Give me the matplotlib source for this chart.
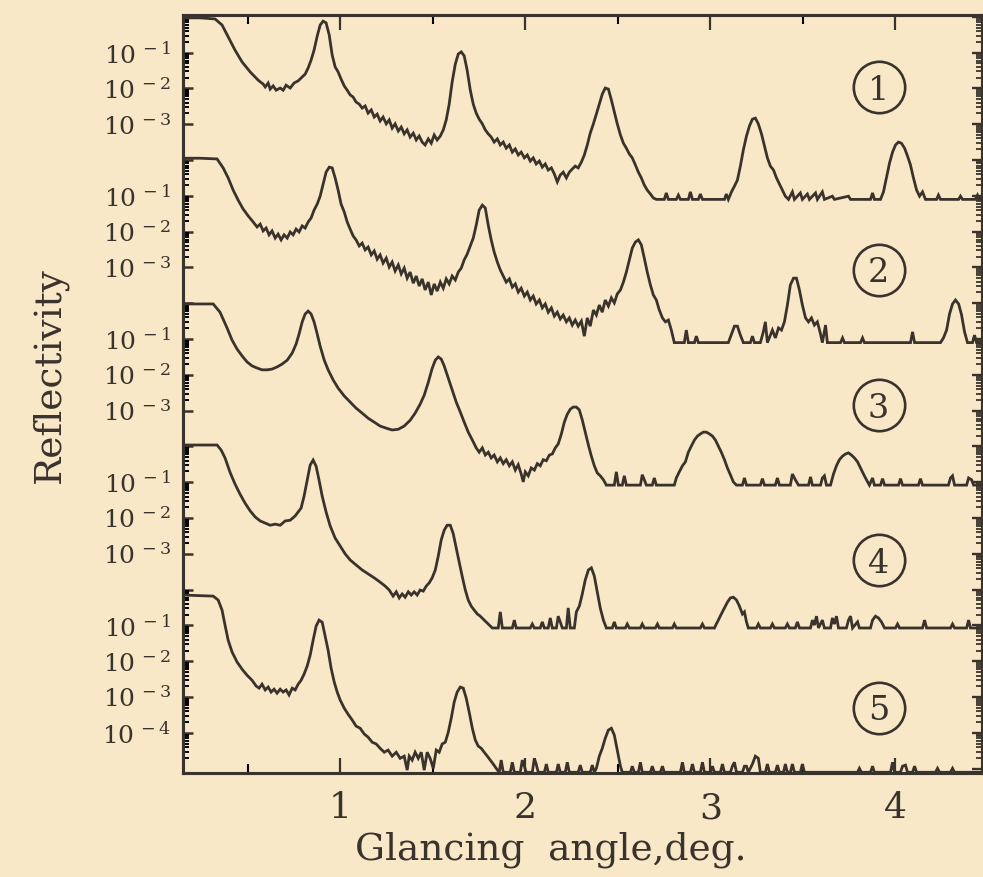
import numpy as np
import matplotlib
matplotlib.use("Agg")
import matplotlib.pyplot as plt
from matplotlib.ticker import NullFormatter

plt.rcParams['font.family'] = ['DejaVu Serif', 'DejaVu Sans']
plt.rcParams['mathtext.fontset'] = 'dejavuserif'

PAPER = '#f8e8c8'
INK = '#3a322c'

# (glancing angle in deg, log10 reflectivity)
curve1 = [
    (0.151, -0.03), (0.243, -0.03), (0.324, -0.06), (0.362, -0.23), (0.395, -0.56),
    (0.432, -0.93), (0.470, -1.26), (0.514, -1.54), (0.557, -1.77), (0.584, -1.88),
    (0.595, -1.96), (0.611, -1.85), (0.622, -2.02), (0.638, -1.93), (0.654, -2.05),
    (0.676, -1.99), (0.692, -2.05), (0.708, -1.91), (0.730, -1.99), (0.751, -1.85),
    (0.773, -1.79), (0.795, -1.68), (0.811, -1.60), (0.827, -1.43), (0.843, -1.21),
    (0.859, -0.93), (0.876, -0.54), (0.892, -0.23), (0.908, -0.12), (0.924, -0.17),
    (0.941, -0.51), (0.957, -1.07), (0.973, -1.40), (0.989, -1.54), (1.005, -1.74),
    (1.022, -1.93), (1.038, -2.05), (1.054, -2.18), (1.070, -2.24), (1.086, -2.38),
    (1.103, -2.44), (1.119, -2.55), (1.135, -2.49), (1.151, -2.69), (1.168, -2.60),
    (1.184, -2.80), (1.200, -2.72), (1.216, -2.91), (1.232, -2.80), (1.249, -2.99),
    (1.265, -2.88), (1.281, -3.11), (1.297, -2.99), (1.314, -3.19), (1.330, -3.08),
    (1.346, -3.27), (1.362, -3.16), (1.378, -3.36), (1.395, -3.25), (1.411, -3.44),
    (1.427, -3.33), (1.443, -3.50), (1.459, -3.58), (1.476, -3.41), (1.492, -3.53),
    (1.508, -3.30), (1.524, -3.44), (1.541, -3.33), (1.557, -3.16), (1.573, -2.88),
    (1.589, -2.44), (1.605, -1.82), (1.622, -1.32), (1.638, -1.04), (1.654, -0.98),
    (1.670, -1.09), (1.686, -1.49), (1.703, -2.05), (1.719, -2.44), (1.735, -2.69),
    (1.751, -2.86), (1.768, -2.99), (1.784, -3.16), (1.800, -3.27), (1.816, -3.36),
    (1.832, -3.50), (1.849, -3.41), (1.865, -3.58), (1.881, -3.50), (1.897, -3.67),
    (1.914, -3.58), (1.930, -3.78), (1.946, -3.69), (1.962, -3.86), (1.978, -3.78),
    (1.995, -3.94), (2.011, -3.86), (2.027, -4.03), (2.043, -3.94), (2.059, -4.11),
    (2.076, -4.03), (2.092, -4.20), (2.108, -4.11), (2.124, -4.28), (2.141, -4.22),
    (2.157, -4.39), (2.173, -4.61), (2.189, -4.42), (2.205, -4.34), (2.222, -4.50),
    (2.238, -4.34), (2.254, -4.25), (2.270, -4.17), (2.286, -4.22), (2.303, -4.06),
    (2.319, -3.86), (2.335, -3.58), (2.351, -3.25), (2.368, -2.99), (2.384, -2.72),
    (2.400, -2.44), (2.416, -2.16), (2.432, -1.99), (2.449, -2.02), (2.465, -2.32),
    (2.481, -2.66), (2.497, -2.99), (2.514, -3.30), (2.530, -3.53), (2.546, -3.67),
    (2.562, -3.83), (2.578, -3.94), (2.595, -4.14), (2.611, -4.34), (2.627, -4.50),
    (2.643, -4.70), (2.659, -4.84), (2.676, -4.95), (2.692, -5.06), (2.708, -5.10),
    (2.751, -5.10), (2.762, -4.92), (2.773, -5.10), (2.816, -5.10), (2.827, -4.98),
    (2.838, -5.10), (2.881, -5.10), (2.892, -4.89), (2.903, -5.10), (2.935, -5.10),
    (2.946, -4.95), (2.957, -5.10), (3.076, -5.10), (3.086, -4.95), (3.097, -5.10),
    (3.114, -4.89), (3.130, -4.73), (3.146, -4.56), (3.162, -4.17), (3.178, -3.72),
    (3.195, -3.33), (3.211, -3.05), (3.227, -2.86), (3.243, -2.83), (3.259, -2.99),
    (3.276, -3.27), (3.292, -3.61), (3.308, -3.94), (3.324, -4.17), (3.341, -4.28),
    (3.357, -4.50), (3.373, -4.67), (3.389, -4.84), (3.405, -5.01), (3.422, -5.10),
    (3.443, -4.89), (3.454, -5.10), (3.486, -4.92), (3.497, -5.10), (3.524, -4.95),
    (3.535, -5.10), (3.568, -4.92), (3.578, -5.10), (3.605, -4.89), (3.616, -5.10),
    (3.659, -5.01), (3.670, -5.10), (3.746, -5.01), (3.757, -5.10), (3.865, -5.10),
    (3.876, -4.92), (3.886, -5.10), (3.919, -5.10), (3.935, -4.89), (3.951, -4.50),
    (3.968, -4.08), (3.984, -3.78), (4.000, -3.58), (4.016, -3.50), (4.032, -3.53),
    (4.049, -3.67), (4.065, -3.89), (4.081, -4.14), (4.097, -4.50), (4.114, -4.84),
    (4.130, -5.01), (4.146, -4.89), (4.162, -5.10), (4.222, -5.10), (4.232, -4.98),
    (4.243, -5.10), (4.341, -5.10), (4.351, -5.01), (4.362, -5.10), (4.432, -5.10),
    (4.443, -4.98), (4.454, -5.10), (4.481, -5.10),
]

curve2 = [
    (0.151, 0.05), (0.243, 0.05), (0.335, 0.03), (0.368, -0.22), (0.395, -0.50),
    (0.422, -0.84), (0.449, -1.12), (0.476, -1.37), (0.503, -1.56), (0.530, -1.73),
    (0.551, -1.87), (0.568, -1.79), (0.584, -1.98), (0.600, -1.90), (0.616, -2.09),
    (0.632, -1.98), (0.649, -2.18), (0.665, -2.07), (0.681, -2.23), (0.697, -2.09),
    (0.714, -2.18), (0.730, -2.01), (0.746, -2.09), (0.762, -1.93), (0.778, -2.01),
    (0.795, -1.84), (0.811, -1.90), (0.827, -1.73), (0.843, -1.62), (0.859, -1.40),
    (0.876, -1.23), (0.892, -1.01), (0.908, -0.67), (0.924, -0.34), (0.941, -0.20),
    (0.957, -0.22), (0.973, -0.50), (0.989, -0.84), (1.005, -1.23), (1.022, -1.45),
    (1.038, -1.73), (1.054, -1.93), (1.070, -2.12), (1.086, -2.23), (1.103, -2.40),
    (1.119, -2.32), (1.135, -2.51), (1.151, -2.43), (1.168, -2.65), (1.184, -2.54),
    (1.200, -2.77), (1.216, -2.65), (1.232, -2.88), (1.249, -2.74), (1.265, -2.99),
    (1.281, -2.85), (1.297, -3.10), (1.314, -2.93), (1.330, -3.18), (1.346, -3.02),
    (1.362, -3.30), (1.378, -3.13), (1.395, -3.44), (1.411, -3.24), (1.427, -3.52),
    (1.443, -3.32), (1.459, -3.63), (1.476, -3.41), (1.492, -3.77), (1.508, -3.46),
    (1.524, -3.66), (1.541, -3.41), (1.557, -3.58), (1.573, -3.32), (1.589, -3.46),
    (1.605, -3.24), (1.622, -3.35), (1.638, -3.13), (1.654, -3.02), (1.670, -2.79),
    (1.686, -2.63), (1.703, -2.40), (1.719, -2.18), (1.735, -1.82), (1.751, -1.40),
    (1.768, -1.26), (1.784, -1.34), (1.800, -1.82), (1.816, -2.23), (1.832, -2.57),
    (1.849, -2.85), (1.865, -3.07), (1.881, -3.24), (1.897, -3.41), (1.914, -3.32),
    (1.930, -3.55), (1.946, -3.46), (1.962, -3.69), (1.978, -3.58), (1.995, -3.80),
    (2.011, -3.69), (2.027, -3.91), (2.043, -3.80), (2.059, -4.02), (2.076, -3.91),
    (2.092, -4.13), (2.108, -4.02), (2.124, -4.25), (2.141, -4.13), (2.157, -4.36),
    (2.173, -4.25), (2.189, -4.44), (2.205, -4.33), (2.222, -4.52), (2.238, -4.41),
    (2.254, -4.61), (2.270, -4.47), (2.286, -4.64), (2.303, -4.50), (2.319, -4.92),
    (2.335, -4.41), (2.351, -4.64), (2.368, -4.19), (2.384, -4.33), (2.400, -4.05),
    (2.416, -4.25), (2.432, -3.91), (2.449, -4.08), (2.465, -3.85), (2.481, -3.99),
    (2.497, -3.74), (2.514, -3.63), (2.530, -3.41), (2.546, -3.13), (2.562, -2.79),
    (2.578, -2.46), (2.595, -2.29), (2.611, -2.23), (2.627, -2.37), (2.643, -2.74),
    (2.659, -3.13), (2.676, -3.49), (2.692, -3.77), (2.708, -3.91), (2.724, -4.19),
    (2.741, -4.41), (2.757, -4.52), (2.773, -4.47), (2.789, -4.75), (2.805, -5.10),
    (2.859, -5.10), (2.870, -4.75), (2.881, -5.10), (2.914, -5.10), (2.924, -4.92),
    (2.935, -5.10), (3.097, -5.10), (3.114, -4.86), (3.130, -4.64), (3.146, -4.64),
    (3.162, -4.89), (3.178, -5.10), (3.216, -5.10), (3.227, -4.92), (3.238, -5.10),
    (3.270, -5.10), (3.286, -4.80), (3.297, -4.52), (3.308, -5.10), (3.335, -4.75),
    (3.351, -4.97), (3.368, -4.69), (3.384, -4.75), (3.400, -4.52), (3.416, -4.05),
    (3.432, -3.49), (3.449, -3.30), (3.465, -3.30), (3.481, -3.63), (3.497, -4.05),
    (3.514, -4.41), (3.530, -4.52), (3.546, -4.41), (3.562, -4.61), (3.578, -4.52),
    (3.595, -4.86), (3.605, -5.10), (3.622, -4.61), (3.632, -5.10), (3.703, -5.10),
    (3.714, -4.97), (3.724, -5.10), (3.811, -5.10), (3.822, -4.97), (3.832, -5.10),
    (4.081, -5.10), (4.092, -4.80), (4.103, -5.10), (4.243, -5.10), (4.259, -4.97),
    (4.276, -4.75), (4.292, -4.30), (4.308, -4.02), (4.324, -3.91), (4.341, -4.02),
    (4.357, -4.33), (4.373, -4.80), (4.389, -5.10), (4.416, -5.10), (4.427, -4.89),
    (4.438, -5.10), (4.481, -5.10),
]

curve3 = [
    (0.151, -0.02), (0.314, -0.02), (0.351, -0.25), (0.389, -0.69), (0.416, -1.03),
    (0.443, -1.28), (0.470, -1.47), (0.497, -1.64), (0.524, -1.75), (0.551, -1.81),
    (0.578, -1.86), (0.605, -1.86), (0.632, -1.84), (0.659, -1.78), (0.686, -1.70),
    (0.714, -1.59), (0.741, -1.39), (0.762, -1.14), (0.778, -0.86), (0.795, -0.52),
    (0.811, -0.30), (0.827, -0.22), (0.843, -0.30), (0.859, -0.52), (0.876, -0.86),
    (0.892, -1.20), (0.914, -1.59), (0.935, -1.86), (0.962, -2.14), (0.989, -2.37),
    (1.022, -2.59), (1.054, -2.76), (1.086, -2.93), (1.119, -3.07), (1.151, -3.21),
    (1.184, -3.32), (1.216, -3.43), (1.249, -3.49), (1.281, -3.54), (1.314, -3.52),
    (1.346, -3.43), (1.378, -3.27), (1.405, -3.07), (1.432, -2.82), (1.454, -2.57),
    (1.476, -2.21), (1.497, -1.82), (1.514, -1.59), (1.530, -1.50), (1.546, -1.56),
    (1.562, -1.75), (1.584, -2.09), (1.605, -2.42), (1.627, -2.76), (1.649, -3.04),
    (1.670, -3.32), (1.692, -3.60), (1.714, -3.82), (1.735, -4.04), (1.751, -4.16),
    (1.768, -4.04), (1.784, -4.24), (1.800, -4.16), (1.816, -4.32), (1.832, -4.24),
    (1.849, -4.43), (1.865, -4.32), (1.881, -4.48), (1.897, -4.37), (1.914, -4.54),
    (1.930, -4.43), (1.946, -4.66), (1.962, -4.51), (1.978, -4.77), (1.989, -4.99),
    (2.000, -4.71), (2.016, -4.82), (2.032, -4.60), (2.049, -4.66), (2.065, -4.48),
    (2.081, -4.54), (2.097, -4.37), (2.114, -4.40), (2.130, -4.24), (2.146, -4.21),
    (2.162, -4.04), (2.178, -3.93), (2.195, -3.65), (2.211, -3.32), (2.227, -3.10),
    (2.243, -2.96), (2.259, -2.90), (2.276, -2.90), (2.292, -2.98), (2.308, -3.26),
    (2.324, -3.60), (2.341, -3.96), (2.357, -4.27), (2.373, -4.54), (2.389, -4.74),
    (2.405, -4.82), (2.422, -4.93), (2.438, -5.08), (2.481, -5.08), (2.492, -4.71),
    (2.503, -5.08), (2.524, -5.08), (2.535, -4.82), (2.546, -5.08), (2.622, -5.08),
    (2.632, -4.79), (2.643, -4.93), (2.654, -5.08), (2.686, -5.08), (2.697, -4.88),
    (2.708, -5.08), (2.805, -5.08), (2.816, -4.88), (2.832, -4.71), (2.849, -4.54),
    (2.865, -4.43), (2.881, -4.16), (2.897, -3.99), (2.914, -3.82), (2.930, -3.71),
    (2.946, -3.65), (2.962, -3.60), (2.978, -3.60), (2.995, -3.65), (3.011, -3.71),
    (3.027, -3.82), (3.043, -3.99), (3.059, -4.16), (3.076, -4.37), (3.092, -4.60),
    (3.108, -4.79), (3.124, -4.99), (3.141, -5.08), (3.173, -5.08), (3.184, -4.88),
    (3.195, -5.08), (3.270, -5.08), (3.281, -4.90), (3.292, -5.08), (3.351, -5.08),
    (3.362, -4.88), (3.373, -5.08), (3.432, -5.08), (3.443, -4.77), (3.459, -4.93),
    (3.476, -5.08), (3.530, -5.08), (3.541, -4.85), (3.551, -5.08), (3.595, -5.08),
    (3.605, -4.88), (3.616, -4.82), (3.627, -5.08), (3.649, -5.08), (3.665, -4.77),
    (3.681, -4.54), (3.697, -4.37), (3.714, -4.27), (3.730, -4.21), (3.746, -4.18),
    (3.762, -4.24), (3.778, -4.32), (3.795, -4.43), (3.811, -4.60), (3.827, -4.77),
    (3.843, -4.93), (3.859, -5.08), (3.876, -4.88), (3.886, -5.08), (3.919, -5.08),
    (3.930, -4.90), (3.941, -5.08), (4.016, -5.08), (4.027, -4.90), (4.038, -5.08),
    (4.124, -5.08), (4.135, -4.90), (4.146, -5.08), (4.286, -5.08), (4.297, -4.88),
    (4.308, -4.82), (4.319, -5.08), (4.384, -5.08), (4.395, -4.88), (4.411, -4.93),
    (4.422, -5.08), (4.481, -5.08),
]

curve4 = [
    (0.151, 0.04), (0.335, 0.04), (0.357, -0.10), (0.378, -0.32), (0.405, -0.72),
    (0.432, -1.05), (0.459, -1.33), (0.486, -1.58), (0.514, -1.80), (0.541, -1.97),
    (0.568, -2.08), (0.595, -2.14), (0.622, -2.20), (0.649, -2.17), (0.676, -2.20),
    (0.703, -2.08), (0.730, -2.06), (0.757, -1.94), (0.773, -1.83), (0.789, -1.72),
    (0.805, -1.39), (0.822, -0.94), (0.838, -0.52), (0.854, -0.38), (0.870, -0.55),
    (0.886, -0.94), (0.903, -1.39), (0.924, -1.83), (0.946, -2.22), (0.973, -2.56),
    (1.000, -2.78), (1.027, -3.00), (1.054, -3.17), (1.086, -3.31), (1.119, -3.45),
    (1.151, -3.56), (1.184, -3.67), (1.216, -3.79), (1.243, -3.90), (1.265, -4.01),
    (1.286, -4.18), (1.303, -4.06), (1.319, -4.23), (1.335, -4.12), (1.351, -4.21),
    (1.368, -4.06), (1.384, -4.15), (1.400, -4.06), (1.416, -4.15), (1.432, -4.01),
    (1.449, -4.04), (1.465, -3.90), (1.481, -3.81), (1.497, -3.67), (1.514, -3.45),
    (1.530, -3.06), (1.546, -2.61), (1.562, -2.34), (1.578, -2.20), (1.595, -2.20),
    (1.611, -2.44), (1.627, -2.84), (1.643, -3.23), (1.659, -3.62), (1.676, -4.01),
    (1.692, -4.29), (1.708, -4.46), (1.724, -4.57), (1.741, -4.68), (1.757, -4.74),
    (1.778, -4.85), (1.800, -4.96), (1.822, -5.07), (1.854, -5.07), (1.865, -4.62),
    (1.876, -5.07), (1.930, -5.07), (1.941, -4.85), (1.951, -5.07), (2.027, -5.07),
    (2.038, -4.96), (2.049, -5.07), (2.081, -5.07), (2.092, -4.90), (2.103, -5.07),
    (2.124, -5.07), (2.135, -4.79), (2.146, -5.07), (2.168, -5.07), (2.178, -4.74),
    (2.189, -4.90), (2.200, -5.07), (2.222, -5.07), (2.232, -4.51), (2.243, -5.07),
    (2.265, -5.07), (2.276, -4.62), (2.292, -4.46), (2.308, -4.12), (2.324, -3.73),
    (2.341, -3.45), (2.357, -3.39), (2.373, -3.62), (2.389, -4.06), (2.405, -4.51),
    (2.422, -4.85), (2.438, -5.07), (2.470, -5.07), (2.481, -4.90), (2.492, -5.07),
    (2.541, -5.07), (2.551, -4.96), (2.562, -5.07), (2.622, -5.07), (2.632, -4.96),
    (2.643, -5.07), (2.703, -5.07), (2.714, -4.96), (2.724, -5.07), (2.795, -5.07),
    (2.805, -4.96), (2.816, -5.07), (2.946, -5.07), (2.957, -4.96), (2.968, -5.07),
    (3.022, -5.07), (3.032, -4.96), (3.043, -4.85), (3.059, -4.68), (3.076, -4.51),
    (3.092, -4.35), (3.108, -4.23), (3.124, -4.21), (3.141, -4.29), (3.157, -4.46),
    (3.173, -4.68), (3.184, -4.62), (3.195, -4.90), (3.205, -5.07), (3.249, -5.07),
    (3.259, -4.96), (3.270, -5.07), (3.324, -5.07), (3.335, -4.96), (3.346, -5.07),
    (3.405, -5.07), (3.416, -4.96), (3.427, -5.07), (3.459, -5.07), (3.470, -4.90),
    (3.481, -5.07), (3.541, -5.07), (3.551, -4.85), (3.562, -4.99), (3.573, -4.74),
    (3.584, -5.07), (3.605, -4.85), (3.616, -5.07), (3.649, -5.07), (3.659, -4.79),
    (3.670, -4.96), (3.681, -4.74), (3.692, -5.07), (3.735, -5.07), (3.746, -4.85),
    (3.757, -4.74), (3.768, -5.07), (3.795, -4.90), (3.805, -5.07), (3.865, -5.07),
    (3.876, -4.85), (3.892, -4.74), (3.908, -4.79), (3.924, -4.90), (3.941, -5.07),
    (4.000, -5.07), (4.011, -4.96), (4.022, -5.07), (4.146, -5.07), (4.157, -4.85),
    (4.168, -5.07), (4.297, -5.07), (4.308, -4.96), (4.319, -5.07), (4.384, -5.07),
    (4.395, -4.85), (4.405, -5.07), (4.481, -5.07),
]

curve5 = [
    (0.151, -0.15), (0.314, -0.18), (0.341, -0.29), (0.362, -0.57), (0.378, -0.99),
    (0.395, -1.41), (0.416, -1.74), (0.443, -2.02), (0.470, -2.22), (0.497, -2.39),
    (0.524, -2.53), (0.546, -2.69), (0.562, -2.75), (0.578, -2.64), (0.595, -2.80),
    (0.611, -2.72), (0.627, -2.86), (0.643, -2.78), (0.659, -2.89), (0.676, -2.78),
    (0.692, -2.86), (0.708, -2.80), (0.724, -2.94), (0.741, -2.75), (0.757, -2.80),
    (0.773, -2.64), (0.789, -2.53), (0.805, -2.36), (0.822, -2.13), (0.838, -1.83),
    (0.854, -1.41), (0.870, -1.02), (0.886, -0.85), (0.903, -0.91), (0.919, -1.30),
    (0.935, -1.69), (0.951, -2.19), (0.968, -2.58), (0.984, -2.86), (1.000, -3.08),
    (1.022, -3.31), (1.043, -3.48), (1.065, -3.64), (1.086, -3.81), (1.108, -3.87),
    (1.130, -4.03), (1.151, -4.12), (1.173, -4.26), (1.195, -4.31), (1.216, -4.43),
    (1.238, -4.54), (1.259, -4.48), (1.281, -4.65), (1.303, -4.54), (1.324, -4.71),
    (1.346, -4.65), (1.362, -5.04), (1.373, -4.65), (1.389, -4.76), (1.405, -4.54),
    (1.422, -4.71), (1.438, -4.54), (1.454, -5.04), (1.470, -4.54), (1.486, -4.71),
    (1.503, -4.99), (1.519, -4.48), (1.535, -4.54), (1.551, -4.31), (1.568, -4.26),
    (1.584, -3.98), (1.600, -3.59), (1.616, -3.14), (1.632, -2.86), (1.649, -2.72),
    (1.665, -2.75), (1.681, -3.03), (1.697, -3.42), (1.714, -3.87), (1.730, -4.20),
    (1.746, -4.37), (1.762, -4.43), (1.778, -4.54), (1.795, -4.65), (1.811, -4.76),
    (1.827, -4.87), (1.843, -4.99), (1.859, -5.10), (1.870, -4.76), (1.881, -5.10),
    (1.919, -5.10), (1.930, -4.82), (1.941, -5.10), (1.973, -5.10), (1.984, -4.76),
    (1.995, -4.93), (2.005, -5.10), (2.038, -5.10), (2.049, -4.71), (2.059, -4.87),
    (2.070, -5.10), (2.103, -5.10), (2.114, -4.87), (2.124, -5.10), (2.168, -5.10),
    (2.178, -4.87), (2.189, -5.10), (2.216, -5.10), (2.227, -4.82), (2.238, -5.10),
    (2.286, -5.10), (2.297, -4.90), (2.308, -5.10), (2.351, -5.10), (2.362, -4.90),
    (2.373, -5.10), (2.384, -4.99), (2.400, -4.65), (2.416, -4.43), (2.432, -4.15),
    (2.449, -3.92), (2.465, -3.87), (2.481, -4.06), (2.497, -4.48), (2.514, -4.93),
    (2.524, -5.10), (2.568, -5.10), (2.578, -4.93), (2.589, -5.10), (2.611, -5.10),
    (2.622, -4.82), (2.632, -5.10), (2.676, -5.10), (2.686, -4.93), (2.697, -5.10),
    (2.730, -5.10), (2.741, -4.93), (2.751, -5.10), (2.838, -5.10), (2.849, -4.82),
    (2.859, -5.10), (2.892, -5.10), (2.903, -4.87), (2.914, -5.10), (2.946, -5.10),
    (2.957, -4.82), (2.968, -5.10), (3.000, -5.10), (3.011, -4.93), (3.022, -5.10),
    (3.054, -5.10), (3.065, -4.87), (3.076, -5.10), (3.108, -5.10), (3.119, -4.93),
    (3.130, -4.82), (3.141, -5.10), (3.173, -5.10), (3.184, -4.93), (3.195, -4.93),
    (3.205, -5.10), (3.227, -4.87), (3.243, -4.65), (3.259, -4.71), (3.270, -5.10),
    (3.297, -5.10), (3.308, -4.87), (3.319, -5.10), (3.351, -5.10), (3.362, -4.90),
    (3.373, -5.10), (3.395, -5.10), (3.405, -4.87), (3.416, -5.10), (3.432, -5.10),
    (3.443, -4.87), (3.454, -5.10), (3.486, -5.10), (3.497, -4.87), (3.508, -5.10),
    (3.795, -5.10), (3.805, -4.99), (3.816, -5.10), (3.865, -5.10), (3.876, -4.93),
    (3.886, -5.10), (3.973, -5.10), (3.984, -4.82), (3.995, -5.10), (4.027, -5.10),
    (4.038, -4.93), (4.054, -4.90), (4.065, -5.10), (4.092, -5.10), (4.103, -4.93),
    (4.114, -5.10), (4.216, -5.10), (4.227, -4.99), (4.238, -5.10), (4.297, -5.10),
    (4.308, -4.99), (4.319, -5.10), (4.481, -5.10),
]

curves = [curve1, curve2, curve3, curve4, curve5]
curve_labels = ['1', '2', '3', '4', '5']
decade_shift = [0, 4, 8, 12, 16]        # each curve moved down by 4 decades
labelled_decades = [3, 3, 3, 3, 4]      # tick labels 10^-1 ... 10^-n per curve
x_tick_values = [1, 2, 3, 4]
x_tick_labels = ['1', '2', '3', '4']

W, H = 983, 877
fig = plt.figure(figsize=(W / 100, H / 100), dpi=100, facecolor=PAPER)
ax = fig.add_axes([183 / W, 1 - 773 / H, 799.5 / W, 758 / H])
ax.set_facecolor(PAPER)
ax.set_yscale('log')

for pts, s in zip(curves, decade_shift):
    a = np.array(pts)
    ax.plot(a[:, 0], 10.0 ** (a[:, 1] - s), color=INK, lw=2.0,
            solid_joinstyle='miter')

ylim = (10.0 ** -21.12, 10.0 ** 0.05)
ax.set_xlim(0.151, 4.47)
ax.set_ylim(*ylim)

# left ticks: one labelled decade block per curve
major, labs, minor = [], [], []
for s, n in zip(decade_shift, labelled_decades):
    for j in range(n + 1):
        major.append(10.0 ** (-j - s))
        labs.append('' if j == 0 else r'$10^{\,-%d}$' % j)
    for j in range(n):
        for m in range(2, 10):
            minor.append(m * 10.0 ** (-j - 1 - s))
for m in range(2, 10):
    minor.append(m * 10.0 ** -21)
ax.set_yticks(major, labs)
ax.set_yticks(minor, minor=True)
ax.yaxis.set_minor_formatter(NullFormatter())

ax.set_xticks(x_tick_values, x_tick_labels)
ax.set_xticks([0.5, 1.5, 2.5, 3.5], minor=True)

ax.tick_params(axis='y', which='major', direction='in', length=7.5, width=1.8,
               labelsize=18, pad=9, colors=INK, right=False)
ax.tick_params(axis='y', which='minor', direction='in', length=4.5, width=1.4,
               right=False)
ax.tick_params(axis='x', which='major', direction='in', length=11, width=1.6,
               labelsize=26, pad=13, colors=INK, top=True)
ax.tick_params(axis='x', which='minor', direction='in', length=6.5, width=1.5,
               top=True)

# right-hand tick comb
axr = ax.twinx()
axr.set_yscale('log')
axr.set_ylim(*ylim)
axr.set_yticks([10.0 ** -d for d in range(0, 22)])
axr.set_yticks([m * 10.0 ** -d for d in range(1, 22) for m in range(2, 10)],
               minor=True)
axr.yaxis.set_major_formatter(NullFormatter())
axr.yaxis.set_minor_formatter(NullFormatter())
axr.tick_params(which='major', direction='in', length=7, width=1.7, colors=INK)
axr.tick_params(which='minor', direction='in', length=4, width=1.3, colors=INK)

for a_ in (ax, axr):
    for sp in a_.spines.values():
        sp.set_linewidth(2.2)
        sp.set_color(INK)

# circled curve numbers
circle_pos = [(0.870, 0.905), (0.870, 0.664), (0.870, 0.485),
              (0.870, 0.281), (0.870, 0.086)]
for (cx, cy), lab in zip(circle_pos, curve_labels):
    ax.plot([cx], [cy], marker='o', ms=37, mfc='none', mec=INK, mew=1.9,
            transform=ax.transAxes, clip_on=False)
    ax.text(cx, cy, lab, transform=ax.transAxes, ha='center',
            va='center_baseline', fontsize=24, color=INK)

fig.text(551 / W, 1 - 860 / H, 'Glancing  angle,deg.', ha='center',
         va='baseline', fontsize=27, color=INK)
fig.text(50 / W, 1 - 375 / H, 'Reflectivity', ha='center', va='center',
         rotation=90, fontsize=27, color=INK)

fig.savefig('out.png', dpi=100, facecolor=PAPER)
